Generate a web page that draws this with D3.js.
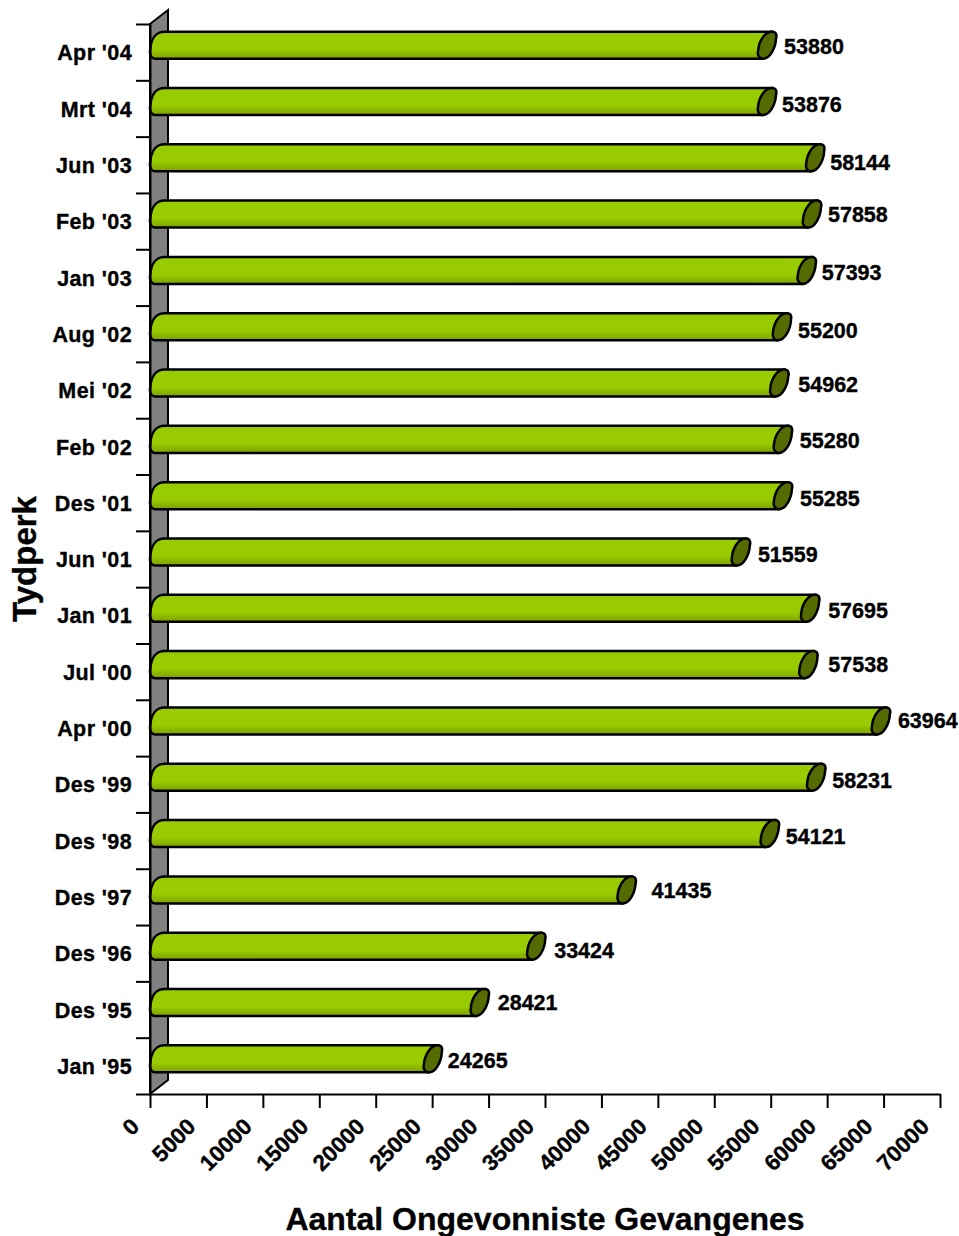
<!DOCTYPE html>
<html>
<head>
<meta charset="utf-8">
<script src="https://cdnjs.cloudflare.com/ajax/libs/d3/7.8.5/d3.min.js"></script>
<style>
html, body { margin: 0; padding: 0; background: #fff; }
svg { display: block; }
text { font-family: "Liberation Sans", Arial, sans-serif; font-weight: bold; fill: #000; stroke: #000; stroke-width: 0.35px; }
</style>
</head>
<body>
<script>
// top to bottom, as in the picture
var periods = ["Apr '04", "Mrt '04", "Jun '03", "Feb '03", "Jan '03", "Aug '02", "Mei '02", "Feb '02", "Des '01", "Jun '01",
    "Jan '01", "Jul '00", "Apr '00", "Des '99", "Des '98", "Des '97", "Des '96", "Des '95", "Jan '95"];
var prisoners = [53880, 53876, 58144, 57858, 57393, 55200, 54962, 55280, 55285, 51559,
    57695, 57538, 63964, 58231, 54121, 41435, 33424, 28421, 24265];
var xTicks = [0, 5000, 10000, 15000, 20000, 25000, 30000, 35000, 40000, 45000, 50000, 55000, 60000, 65000, 70000];

// the value labels do not sit on a regular spacing in the original
var labelNudgeX = [26, 24, 24, 25, 24, 25, 28, 26, 26, 26, 27, 29, 26, 25, 25, 34, 27, 27, 24];
var labelNudgeY = [1, 3, 5, 0, 2, 4, 1, 1, 3, 2, 2, 0, 0, 3, 3, 1, 4, 0, 2];

var width = 959, height = 1236;
var margin = {left: 150, top: 24, right: 940, bottom: 1094};
var depthX = 18, depthY = 14;//3d offset of the chart

var svg = d3.select("body").append("svg")
    .attr("width", width)
    .attr("height", height);

var xScale = d3.scaleLinear().domain([0, 70000]).range([margin.left, margin.right]);
var yScale = d3.scaleBand().domain(periods).range([margin.top, margin.bottom]).paddingInner(0.52).paddingOuter(0.26);
var yEdges = d3.scaleLinear().domain([0, periods.length]).range([margin.top, margin.bottom]);

var defs = svg.append("defs");
var grad = defs.append("linearGradient")
    .attr("id", "barFill")
    .attr("x1", 0).attr("y1", 0).attr("x2", 0).attr("y2", 1);
grad.append("stop").attr("offset", "0%").attr("stop-color", "#99cc00");
grad.append("stop").attr("offset", "65%").attr("stop-color", "#99cc00");
grad.append("stop").attr("offset", "75%").attr("stop-color", "#90bf00");
grad.append("stop").attr("offset", "100%").attr("stop-color", "#7f9f00");

// back wall
svg.append("path")
    .attr("d", d3.line()([
        [margin.left, margin.top],
        [margin.left + depthX, margin.top - depthY],
        [margin.left + depthX, margin.bottom - depthY],
        [margin.left, margin.bottom]
    ]) + "Z")
    .attr("fill", "#808080")
    .attr("stroke", "#000")
    .attr("stroke-width", 2);

function capPath(x, top, bottom) {//slanted ellipse that closes the cylinder
    var mid = (top + bottom) / 2, h = bottom - top;
    return "M" + (x + 14) + "," + top
        + "C" + (x + 18) + "," + top + " " + (x + 19) + "," + (top + h * 0.12) + " " + (x + depthX) + "," + (top + h * 0.25)
        + "C" + (x + 17.5) + "," + (mid + h * 0.1) + " " + (x + 12) + "," + bottom + " " + (x + 5) + "," + bottom
        + "C" + (x + 1) + "," + bottom + " " + (x - 1) + "," + (bottom - h * 0.15) + " " + x + "," + (bottom - h * 0.28)
        + "C" + (x + 0.5) + "," + (mid - h * 0.1) + " " + (x + 6) + "," + top + " " + (x + 14) + "," + top + "Z";
}

function bodyPath(x0, x1, top, bottom) {//cylinder side, left end is a rounder version of the cap edge
    var mid = (top + bottom) / 2, h = bottom - top;
    return "M" + (x0 + 15) + "," + top
        + "L" + (x1 + 14) + "," + top
        + "L" + (x1 + 5) + "," + bottom
        + "L" + (x0 + 5) + "," + bottom
        + "C" + (x0 + 2) + "," + bottom + " " + (x0 - 0.5) + "," + (bottom - h * 0.12) + " " + x0 + "," + (bottom - h * 0.28)
        + "C" + (x0 + 1) + "," + (mid - h * 0.25) + " " + (x0 + 5) + "," + top + " " + (x0 + 15) + "," + top + "Z";
}

var bars = svg.append("g")
    .attr("transform", "translate(0," + (-depthY / 2) + ")")
    .selectAll("g")
    .data(periods)
    .enter().append("g");

bars.append("path")
    .attr("d", function (d, i) {
        return bodyPath(xScale(0), xScale(prisoners[i]), yScale(d), yScale(d) + yScale.bandwidth());
    })
    .attr("fill", "url(#barFill)")
    .attr("stroke", "#000")
    .attr("stroke-width", 2.5);

bars.append("path")
    .attr("d", function (d, i) {
        return capPath(xScale(prisoners[i]), yScale(d), yScale(d) + yScale.bandwidth());
    })
    .attr("fill", "#556b00")
    .attr("stroke", "#000")
    .attr("stroke-width", 2.5);

bars.append("text")
    .attr("x", function (d, i) { return xScale(prisoners[i]) + labelNudgeX[i]; })
    .attr("y", function (d, i) { return yScale(d) + yScale.bandwidth() / 2 + labelNudgeY[i]; })
    .attr("dy", "0.35em")
    .style("font-size", "21.5px")
    .text(function (d, i) { return prisoners[i]; });

// x axis
var xAxis = svg.append("g")
    .attr("transform", "translate(0," + margin.bottom + ")")
    .call(d3.axisBottom(xScale).tickValues(xTicks).tickSize(14).tickSizeOuter(0).tickFormat(d3.format("d")));
xAxis.selectAll("path, line").attr("stroke", "#000").attr("stroke-width", 2);
xAxis.selectAll("text")
    .attr("text-anchor", "end")
    .attr("x", 0).attr("y", 0).attr("dy", 0)
    .attr("transform", "translate(-10,34) rotate(-45)")
    .style("font-size", "22.5px");

// y axis: marks sit between the bands, names in the middle of them
var yTickAxis = svg.append("g")
    .attr("transform", "translate(" + margin.left + ",0)")
    .call(d3.axisLeft(yEdges).tickValues(d3.range(periods.length + 1)).tickSize(14).tickSizeOuter(0).tickFormat(""));
yTickAxis.selectAll("path, line").attr("stroke", "#000").attr("stroke-width", 2);

var yAxis = svg.append("g")
    .attr("transform", "translate(" + margin.left + ",0)")
    .call(d3.axisLeft(yScale).tickSize(0).tickPadding(18));
yAxis.select("path").remove();
yAxis.selectAll("text").attr("dy", "0.38em").style("font-size", "21.5px").style("letter-spacing", "0.4px");

// axis titles
svg.append("text")
    .attr("x", 545).attr("y", 1230)
    .attr("text-anchor", "middle")
    .style("font-size", "32px")
    .text("Aantal Ongevonniste Gevangenes");

svg.append("text")
    .attr("transform", "translate(36,559) rotate(-90)")
    .attr("text-anchor", "middle")
    .style("font-size", "33px")
    .text("Tydperk");
</script>
</body>
</html>
